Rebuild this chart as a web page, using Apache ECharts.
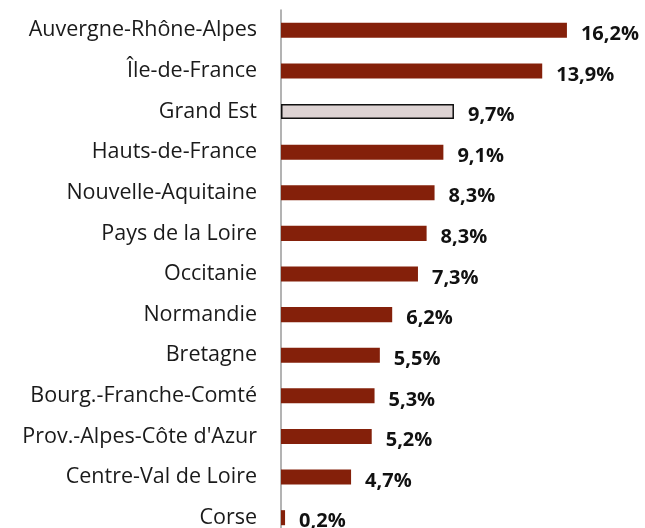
<!DOCTYPE html>
<html>
<head>
<meta charset="utf-8">
<script src="https://cdn.jsdelivr.net/npm/echarts@6/dist/echarts.min.js"></script>
<style>
  html, body { margin: 0; padding: 0; background: #fff; }
  #main { width: 645px; height: 528px; }
</style>
</head>
<body>
<div id="main"></div>
<script>
// regions, top to bottom
var regions = ['Auvergne-Rhône-Alpes', 'Île-de-France', 'Grand Est', 'Hauts-de-France',
    'Nouvelle-Aquitaine', 'Pays de la Loire', 'Occitanie', 'Normandie', 'Bretagne',
    'Bourg.-Franche-Comté', "Prov.-Alpes-Côte d'Azur", 'Centre-Val de Loire', 'Corse'];
// bar lengths as drawn
var barValues = [16.2, 14.8, 9.8, 9.2, 8.7, 8.25, 7.76, 6.3, 5.6, 5.3, 5.14, 3.97, 0.23];
// percentages printed next to the bars
var shareLabels = ['16,2%', '13,9%', '9,7%', '9,1%', '8,3%', '8,3%', '7,3%', '6,2%',
    '5,5%', '5,3%', '5,2%', '4,7%', '0,2%'];
var highlight = 'Grand Est';

loadMain();

function loadMain() {
    var main = echarts.init(document.getElementById('main'));
    var data = barValues.map(function (v, i) {
        var item = { value: v };
        if (regions[i] === highlight) {
            item.itemStyle = { color: '#ddd3d3', borderColor: '#111', borderWidth: 1.5 };
        }
        return item;
    });
    main.setOption({
        animation: false,
        backgroundColor: '#fff',
        grid: { left: 281, width: 353, top: 10, height: 528, outerBoundsMode: 'none' },
        xAxis: {
            type: 'value',
            min: 0,
            max: 20,
            show: false
        },
        yAxis: {
            type: 'category',
            inverse: true,
            data: regions,
            axisLine: { lineStyle: { color: '#9a9a9a', width: 1.5 } },
            axisTick: { show: false },
            axisLabel: {
                margin: 24,
                color: '#1a1a1a',
                fontSize: 21.5,
                fontFamily: 'Open Sans'
            }
        },
        series: [{
            type: 'bar',
            data: data,
            barWidth: '37%',
            itemStyle: { color: '#84200a' },
            label: {
                show: true,
                position: 'right',
                distance: 14,
                offset: [0, 4],
                color: '#111',
                fontSize: 20,
                fontWeight: 'bold',
                fontFamily: 'Open Sans',
                formatter: function (p) { return shareLabels[p.dataIndex]; }
            }
        }]
    });
}
</script>
</body>
</html>
